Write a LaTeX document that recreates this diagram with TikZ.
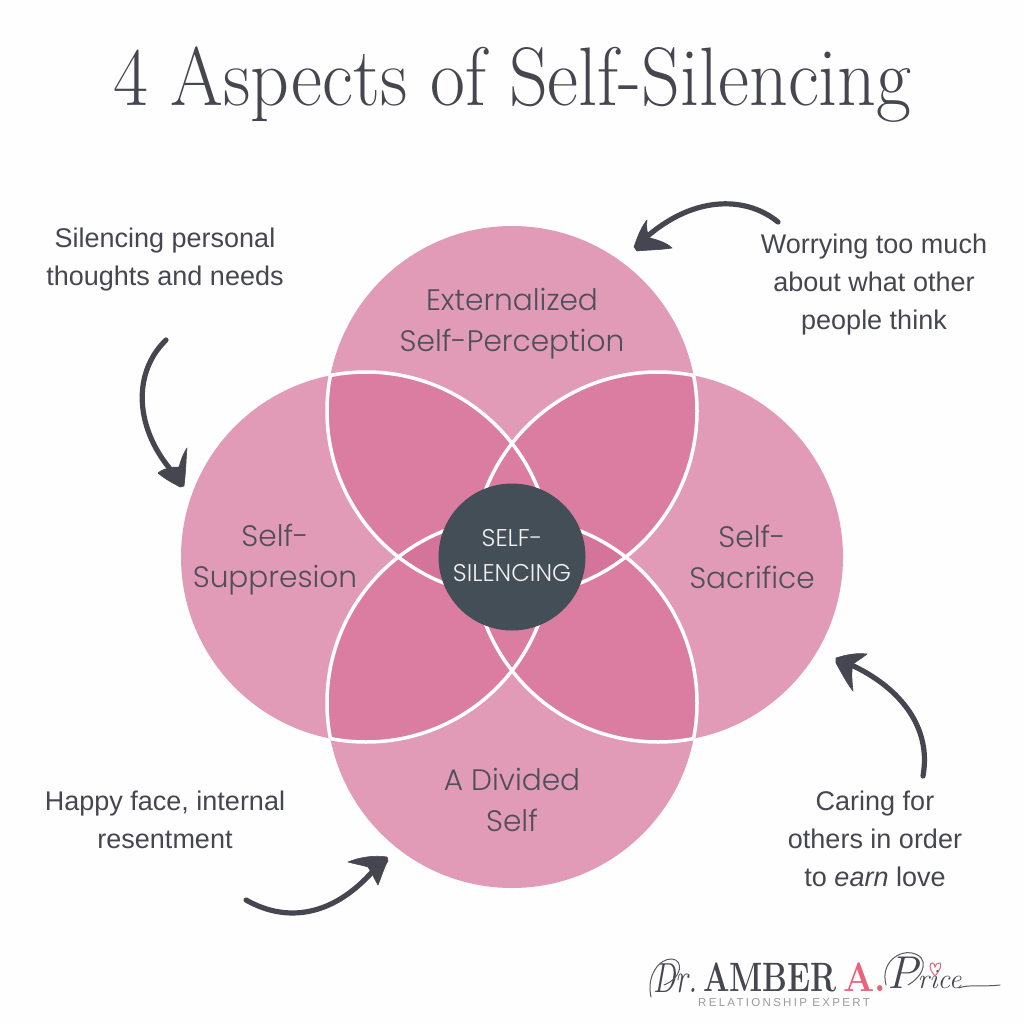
\documentclass[tikz,border=0pt]{standalone}
\usepackage{fontspec}
\usepackage{graphicx}
\newfontfamily\pop{Poppins Light}
\newfontfamily\rob{Liberation Sans}
\definecolor{bgc}{HTML}{FEFEFE}
\definecolor{lobe}{HTML}{E19BB7}
\definecolor{petal}{HTML}{DA7DA1}
\definecolor{diam}{HTML}{D5749B}
\definecolor{core}{HTML}{444E56}
\definecolor{ink}{HTML}{464650}
\definecolor{logopink}{HTML}{E8647C}
\definecolor{logogrey}{HTML}{9C9CA0}
\tikzset{
  lobelabel/.style={inner sep=0pt,align=center,text=ink!95,font=\pop\fontsize{29.6}{41}\selectfont},
  note/.style={inner sep=0pt,align=center,text=ink,font=\rob\fontsize{27}{38}\selectfont},
  shaft/.style={draw=ink,line width=5.2pt,line cap=round},
  barb/.style={fill=ink,draw=ink,line width=.6pt,line join=round},
  seam/.style={draw=white,line width=3.5pt},
  pen/.style={draw=ink!90,line width=1pt,line cap=round}
}
\begin{document}
\begin{tikzpicture}[x=1pt,y=-1pt]
\path[use as bounding box,fill=bgc] (0,0) rectangle (1024,1024);
\coordinate (T) at (512,411);
\coordinate (B) at (512,703);
\coordinate (L) at (366,557);
\coordinate (R) at (658,557);
\def\rr{185}
% lobes
\foreach \c in {T,B,L,R} \fill[lobe] (\c) circle[radius=\rr];
% overlaps
\foreach \a/\b in {T/L,T/R,B/L,B/R,T/B,L/R}{
  \begin{scope}
    \clip (\a) circle[radius=\rr];
    \fill[petal] (\b) circle[radius=\rr];
  \end{scope}}
\begin{scope}
  \clip (T) circle[radius=\rr];
  \fill[diam] (B) circle[radius=\rr];
\end{scope}
% seams
\foreach \a/\b in {T/L,T/R,B/L,B/R,L/T,L/B,R/T,R/B}{
  \begin{scope}
    \clip (\a) circle[radius=\rr];
    \draw[seam] (\b) circle[radius=\rr];
  \end{scope}}
% core
\node[circle,fill=core,minimum size=147pt,inner sep=0pt] (core) at (512,557) {};
\node[inner sep=0pt,text=white!92!core,align=center,
      font=\pop\fontsize{24.2}{35}\selectfont] (corelabel) at (512,555.5) {SELF-\\SILENCING};
% title
\node[anchor=base west,inner sep=0pt,text=ink] (title) at (113,106)
  {\scalebox{0.915}[1]{\fontsize{83}{83}\selectfont 4 Aspects of Self-Silencing}};
% lobe labels
\node[lobelabel] (ext) at (512,324) {Externalized\\Self-Perception};
\node[lobelabel] (sup) at (275,560) {Self-\\Suppresion};
\node[lobelabel] (sac) at (752,557) {Self-\\Sacrifice};
\node[lobelabel] (div) at (512,800) {A Divided\\Self};
% notes
\node[note] (n1) at (165,259.5) {Silencing personal\\thoughts and needs};
\node[note] (n2) at (874,285) {Worrying too much\\about what other\\people think};
\node[note] (n3) at (165,820) {Happy face, internal\\resentment};
\node[note] (n4) at (875,839) {Caring for\\others in order\\to \emph{earn} love};
% arrows
\coordinate (a1s) at (778,222); \coordinate (a1e) at (640,243);
\draw[shaft] (a1s) .. controls (745,195) and (690,195) .. (a1e);
\fill[barb] (634,247) .. controls (638,235) and (642,226) .. (647,220) .. controls (646,228) and (647,234) .. (650,238) .. controls (658,240) and (667,243) .. (672,248) .. controls (660,250) and (645,250) .. (637,251) -- cycle;
\coordinate (a2s) at (166,340); \coordinate (a2e) at (180,480);
\draw[shaft] (a2s) .. controls (130,375) and (135,435) .. (a2e);
\fill[barb] (184,486) .. controls (186,470) and (186,458) .. (187,448) .. controls (183,454) and (181,460) .. (179,467) .. controls (172,467) and (164,468) .. (158,473) .. controls (166,480) and (175,484) .. (180,487) -- cycle;
\coordinate (a3s) at (246,900); \coordinate (a3e) at (382,860);
\draw[shaft] (a3s) .. controls (290,925) and (340,915) .. (a3e);
\fill[barb] (387,857) .. controls (375,855) and (360,857) .. (348,862) .. controls (355,864) and (362,865) .. (368,867) .. controls (372,873) and (375,880) .. (378,885) .. controls (382,875) and (385,865) .. (388,861) -- cycle;
\coordinate (a4s) at (923,776); \coordinate (a4e) at (842,661);
\draw[shaft] (a4s) .. controls (933,720) and (890,680) .. (a4e);
\fill[barb] (836,658) .. controls (848,654) and (858,653) .. (867,654) .. controls (862,658) and (857,661) .. (853,664) .. controls (851,672) and (852,682) .. (853,691) .. controls (846,682) and (840,670) .. (836,663) -- cycle;
% logo
\node[anchor=base west,inner sep=0pt,text=ink] (dr) at (653,992)
  {\scalebox{0.72}[1]{\itshape\fontsize{42}{42}\selectfont Dr.}};
\coordinate (d1) at (651,997); \coordinate (d2) at (664,985);
\draw[pen] (d1) .. controls (646,975) and (660,958) .. (672,959) .. controls (684,960) and (682,978) .. (d2);
\node[anchor=base west,inner sep=0pt,text=ink] (amber) at (703,991)
  {\scalebox{0.76}[1]{\bfseries\fontsize{41}{41}\selectfont AMBER}};
\node[anchor=base west,inner sep=0pt,text=logopink] (aa) at (843,991)
  {\scalebox{0.9}[1]{\bfseries\fontsize{41}{41}\selectfont A.}};
\node[anchor=base west,inner sep=0pt,text=logogrey] (rel) at (698,1006)
  {\rob\addfontfeature{LetterSpace=20}\fontsize{11.5}{11.5}\selectfont RELATIONSHIP EXPERT};
\node[anchor=base west,inner sep=0pt,text=ink] (price) at (887,988)
  {\itshape{\fontsize{46}{46}\selectfont P}{\fontsize{28}{28}\selectfont rice}};
\coordinate (p1) at (886,985); \coordinate (p2) at (908,985);
\draw[pen] (p1) .. controls (880,962) and (900,950) .. (912,953) .. controls (930,957) and (925,975) .. (p2);
\coordinate (sw1) at (958,988); \coordinate (sw2) at (1000,985);
\draw[pen] (sw1) .. controls (970,984) and (985,987) .. (sw2);
\coordinate (h1) at (935,976);
\draw[logopink,line width=1pt] (h1) .. controls (928,968) and (930,963) .. (932,963) .. controls (934,963) and (935,965) .. (935,967) .. controls (936,964) and (938,962) .. (940,963) .. controls (942,965) and (940,970) .. (h1);
\end{tikzpicture}
\end{document}
